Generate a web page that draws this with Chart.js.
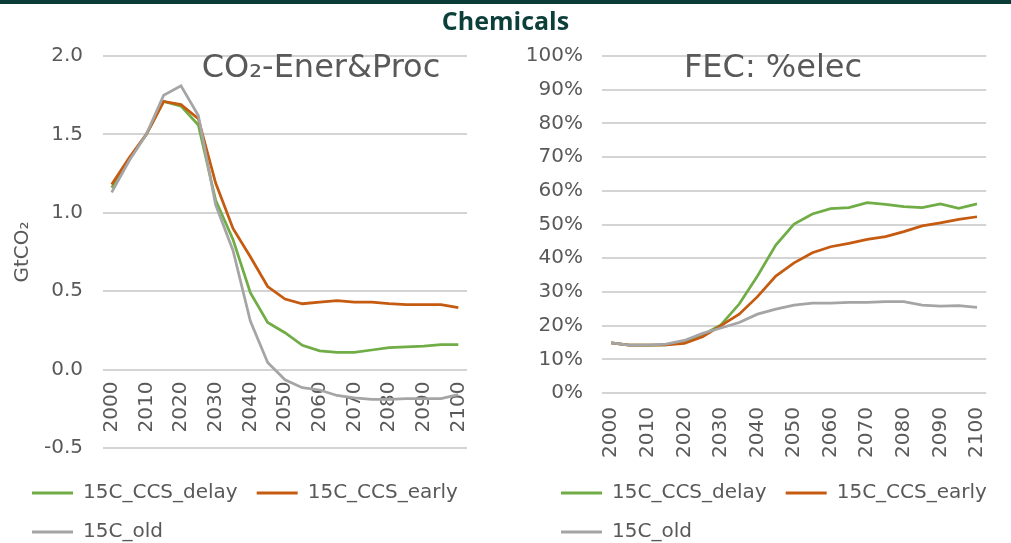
<!DOCTYPE html>
<html>
<head>
<meta charset="utf-8">
<script src="https://cdn.jsdelivr.net/npm/chart.js@4/dist/chart.umd.min.js"></script>
<style>
    body { margin: 0; background: #fff; overflow: hidden; }
    #bar { position: absolute; left: 0; top: 0; width: 1011px; height: 4px; background: #0b3b37; z-index: 2; }
    #title { position: absolute; left: 0; top: 8px; width: 1011px; text-align: center; z-index: 2;
             font: 700 25px/25px "Open Sans", sans-serif; color: #0d3f3a; }
    .cell { position: absolute; top: 0; }
    canvas { display: block; }
</style>
</head>
<body>
<div id="bar"></div>
<div id="title">Chemicals</div>
<div class="cell" style="left: 13px"><canvas id="co2" width="482" height="552"></canvas></div>
<div class="cell" style="left: 505px"><canvas id="elec" width="510" height="552"></canvas></div>
<script>
const years = ['2000', '2005', '2010', '2015', '2020', '2025', '2030', '2035', '2040', '2045', '2050',
               '2055', '2060', '2065', '2070', '2075', '2080', '2085', '2090', '2095', '2100'];

const series_names = ['15C_CCS_delay', '15C_CCS_early', '15C_old'];
const series_colors = ['#70ad47', '#c55a11', '#a5a5a5'];

// GtCO2
const co2_delay = [1.16, 1.34, 1.50, 1.71, 1.68, 1.56, 1.08, 0.83, 0.49, 0.30, 0.235,
                   0.155, 0.12, 0.11, 0.11, 0.125, 0.14, 0.145, 0.15, 0.16, 0.16];
const co2_early = [1.18, 1.35, 1.50, 1.71, 1.69, 1.60, 1.19, 0.90, 0.72, 0.53, 0.45,
                   0.42, 0.43, 0.44, 0.43, 0.43, 0.42, 0.415, 0.415, 0.415, 0.395];
const co2_old = [1.13, 1.33, 1.50, 1.75, 1.81, 1.62, 1.05, 0.76, 0.31, 0.045, -0.065,
                 -0.115, -0.13, -0.165, -0.18, -0.19, -0.19, -0.185, -0.185, -0.185, -0.16];

// share of electricity in final energy, %
const elec_delay = [14.9, 14.2, 14.2, 14.3, 15.2, 17.2, 20.2, 26.4, 34.7, 43.9, 50.1,
                    53.1, 54.7, 55.0, 56.5, 56.0, 55.3, 55.0, 56.1, 54.8, 56.1];
const elec_early = [14.9, 14.2, 14.2, 14.3, 14.7, 16.7, 20.0, 23.4, 28.6, 34.7, 38.6,
                    41.6, 43.4, 44.4, 45.6, 46.4, 47.9, 49.6, 50.5, 51.5, 52.3];
const elec_old = [14.9, 14.2, 14.2, 14.5, 15.6, 17.7, 19.3, 20.9, 23.4, 24.9, 26.1,
                  26.7, 26.7, 26.9, 26.9, 27.1, 27.1, 26.1, 25.8, 25.9, 25.4];

const GRID_COLOR = '#d4d4d4';

Chart.defaults.font.family = '"DejaVu Sans", Verdana, sans-serif';
Chart.defaults.font.size = 20;
Chart.defaults.color = '#595959';

// title drawn inside the plot area, like the excel chart title
const inner_title = {
    id: 'innerTitle',
    afterDatasetsDraw(chart, args, opts) {
        const ctx = chart.ctx;
        ctx.save();
        ctx.font = '32px "DejaVu Sans", Verdana, sans-serif';
        ctx.fillStyle = '#595959';
        ctx.textAlign = 'center';
        ctx.textBaseline = 'alphabetic';
        ctx.fillText(opts.text, opts.x, opts.y);
        ctx.restore();
    }
};

// horizontal gridlines at the y scale ticks; drawn last but behind
// everything already on the canvas, so the series stay on top
const grid_lines = {
    id: 'gridLines',
    afterDraw(chart) {
        const { ctx, chartArea } = chart;
        const y_scale = chart.scales.y;
        ctx.save();
        ctx.globalCompositeOperation = 'destination-over';
        ctx.globalAlpha = 1;
        ctx.setLineDash([]);
        ctx.strokeStyle = GRID_COLOR;
        ctx.lineWidth = 2;
        for (let tick of y_scale.ticks) {
            const y = Math.round(y_scale.getPixelForValue(tick.value));
            ctx.beginPath();
            ctx.moveTo(chartArea.left, y);
            ctx.lineTo(chartArea.right, y);
            ctx.stroke();
        }
        ctx.restore();
    }
};

// chart.js clips y tick labels to the axis box; give "100%" some room on the left
const widen_y = {
    id: 'widenY',
    afterLayout(chart, args, opts) {
        chart.scales.y.left -= opts.extra || 0;
    }
};

function make_datasets(values) {
    // excel draws the last series on top
    return values.map((data, i) => ({
        label: series_names[i],
        data: data,
        borderColor: series_colors[i],
        backgroundColor: series_colors[i],
        borderWidth: 2.75,
        pointRadius: 0,
        tension: 0,
        fill: false,
        order: values.length - i,
    }));
}

function legend_opts() {
    return {
        position: 'bottom',
        align: 'start',
        labels: {
            boxWidth: 41,
            boxHeight: 3,
            padding: 19,
            sort: (a, b) => a.datasetIndex - b.datasetIndex,
            generateLabels: chart => Chart.defaults.plugins.legend.labels.generateLabels(chart)
                .map(l => Object.assign(l, { lineWidth: 0 })),
        },
    };
}

function x_ticks(padding) {
    return {
        autoSkip: false,
        minRotation: 90,
        maxRotation: 90,
        padding: padding,
        callback: function (val, i) {
            return i % 2 === 0 ? this.getLabelForValue(val) : '';
        },
    };
}

function y_grid() {
    return { color: GRID_COLOR, lineWidth: 2, drawTicks: false };
}

function make_co2_chart() {
    const ctx = document.getElementById('co2').getContext('2d');
    return new Chart(ctx, {
        type: 'line',
        data: { labels: years, datasets: make_datasets([co2_delay, co2_early, co2_old]) },
        options: {
            responsive: false,
            animation: false,
            devicePixelRatio: 1,
            layout: { padding: { top: 56, right: 10, left: 0, bottom: 0 } },
            scales: {
                x: {
                    type: 'category',
                    offset: true,
                    position: { y: 0 },
                    grid: { display: false, drawTicks: false },
                    border: { display: false },
                    ticks: x_ticks(12),
                },
                // empty axis only to keep room between the plot and the legend
                gap: {
                    type: 'category',
                    axis: 'x',
                    position: 'bottom',
                    offset: true,
                    grid: { display: false, drawTicks: false },
                    border: { display: false },
                    ticks: { display: false },
                    afterFit: s => { s.height = 16; },
                },
                y: {
                    min: -0.5,
                    max: 2.0,
                    grid: y_grid(),
                    border: { display: false },
                    ticks: { stepSize: 0.5, padding: 20, callback: v => v.toFixed(1) },
                    title: { display: true, text: 'GtCO₂', padding: { top: 0, bottom: 0 }, font: { size: 20, lineHeight: 1 } },
                    afterFit: s => { s.width = 90; },
                },
            },
            plugins: {
                legend: legend_opts(),
                tooltip: { enabled: false },
                innerTitle: { text: 'CO₂-Ener&Proc', x: 308, y: 77 },
            },
        },
        plugins: [inner_title, grid_lines],
    });
}

function make_elec_chart() {
    const ctx = document.getElementById('elec').getContext('2d');
    return new Chart(ctx, {
        type: 'line',
        data: { labels: years, datasets: make_datasets([elec_delay, elec_early, elec_old]) },
        options: {
            responsive: false,
            animation: false,
            devicePixelRatio: 1,
            layout: { padding: { top: 56, right: 0, left: 37, bottom: 0 } },
            scales: {
                x: {
                    type: 'category',
                    offset: true,
                    grid: { display: false, drawTicks: false },
                    border: { display: false },
                    ticks: x_ticks(14),
                    afterFit: s => { s.height = 71; },
                },
                y: {
                    min: 0,
                    max: 100,
                    grid: y_grid(),
                    border: { display: false },
                    ticks: { stepSize: 10, padding: 19, callback: v => v + '%' },
                    afterFit: s => { s.width = 60; },
                },
            },
            plugins: {
                legend: legend_opts(),
                tooltip: { enabled: false },
                innerTitle: { text: 'FEC: %elec', x: 268, y: 77 },
                widenY: { extra: 30 },
            },
        },
        plugins: [inner_title, grid_lines, widen_y],
    });
}

make_co2_chart();
make_elec_chart();
</script>
</body>
</html>
